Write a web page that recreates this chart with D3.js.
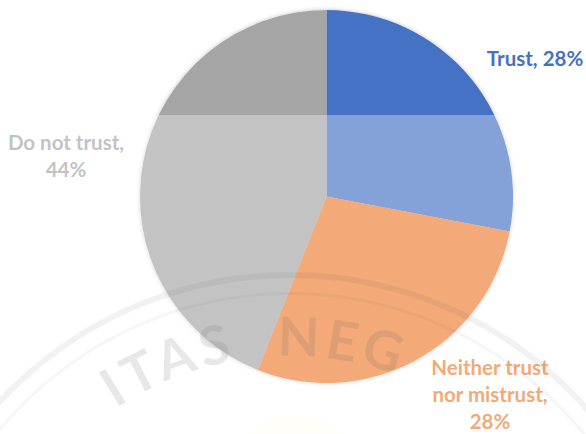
<!DOCTYPE html>
<html>
<head>
<meta charset="utf-8">
<script src="https://cdn.jsdelivr.net/npm/d3@7"></script>
<style>
  html, body { margin: 0; padding: 0; background: #fff; }
  svg { display: block; }
  text { font-family: Lato, "Open Sans", sans-serif; font-weight: bold; }
</style>
</head>
<body>
<svg id="chart" width="586" height="434"></svg>
<script>
// Trust survey pie

var categories = ["Trust", "Neither trust nor mistrust", "Do not trust"];
var values = [28, 28, 44];
var labelLines = [["Trust, 28%"], ["Neither trust", "nor mistrust,", "28%"], ["Do not trust,", "44%"]];
var palette = ["#4472C4", "#ED7D31", "#A5A5A5"];

var width = 586, height = 434;
var cx = 326.5, cy = 196.5, radius = 186.5; // pie centre / size

var svg = d3.select("#chart");

var color = d3.scaleOrdinal().domain(categories).range(palette);

var defs = svg.append("defs");
var shadow = defs.append("filter").attr("id", "soft")
  .attr("x", "-10%").attr("y", "-10%").attr("width", "120%").attr("height", "120%");
shadow.append("feDropShadow").attr("dx", 0).attr("dy", 0)
  .attr("stdDeviation", 2).attr("flood-color", "#000").attr("flood-opacity", 0.25);

var pie = d3.pie().sort(null).value(function (d) { return d.value; });
var arc = d3.arc().innerRadius(0).outerRadius(radius);

var data = categories.map(function (c, i) {
  return { name: c, value: values[i], lines: labelLines[i] };
});

var g = svg.append("g").attr("transform", "translate(" + cx + "," + cy + ")");
g.append("g").attr("filter", "url(#soft)")
  .selectAll("path")
  .data(pie(data))
  .join("path")
  .attr("d", arc)
  .attr("fill", function (d) { return color(d.data.name); });

// Labels (centre x and first baseline of each label block)
var labelPos = {
  "Trust": { x: 535, y: 66 },
  "Neither trust nor mistrust": { x: 490, y: 375 },
  "Do not trust": { x: 66, y: 150 }
};

data.forEach(function (d) {
  var p = labelPos[d.name];
  d.lines.forEach(function (line, i) {
    svg.append("text")
      .attr("x", p.x).attr("y", p.y + i * 27)
      .attr("text-anchor", "middle")
      .attr("font-size", 20.5)
      .attr("fill", color(d.name))
      .text(line);
  });
});

// Faint watermark (part of a university seal), only the readable bits
var wcx = 290, wcy = 671;
var wm = svg.append("g").attr("transform", "translate(" + wcx + "," + wcy + ")");
wm.append("path")
  .attr("d", d3.arc()({ innerRadius: 393, outerRadius: 399, startAngle: -1.0, endAngle: 1.0 }))
  .attr("fill", "#000").attr("opacity", 0.08);
wm.append("path")
  .attr("d", d3.arc()({ innerRadius: 376, outerRadius: 379, startAngle: -1.1, endAngle: 0.9 }))
  .attr("fill", "#000").attr("opacity", 0.05);
defs.append("path").attr("id", "wmpath")
  .attr("d", "M" + (wcx - 315) + "," + wcy + " A315,315 0 0,1 " + (wcx + 315) + "," + wcy);
var wmText = svg.append("g").attr("opacity", 0.13);
wmText.append("text")
  .attr("font-size", 54).attr("fill", "#000").attr("letter-spacing", 5)
  .append("textPath").attr("href", "#wmpath").attr("startOffset", 442)
  .attr("text-anchor", "end")
  .text("ITAS");
wmText.append("text")
  .attr("font-size", 54).attr("fill", "#000").attr("letter-spacing", 5)
  .append("textPath").attr("href", "#wmpath").attr("startOffset", 482)
  .text("NEG");
svg.append("ellipse").attr("cx", 295).attr("cy", 440).attr("rx", 45).attr("ry", 25)
  .attr("fill", "#ffe680").attr("opacity", 0.08);

// Lighter wash over the lower part of the picture
svg.append("rect")
  .attr("x", 0).attr("y", 115)
  .attr("width", width).attr("height", height - 115)
  .attr("fill", "#fff").attr("opacity", 0.34);
</script>
</body>
</html>
